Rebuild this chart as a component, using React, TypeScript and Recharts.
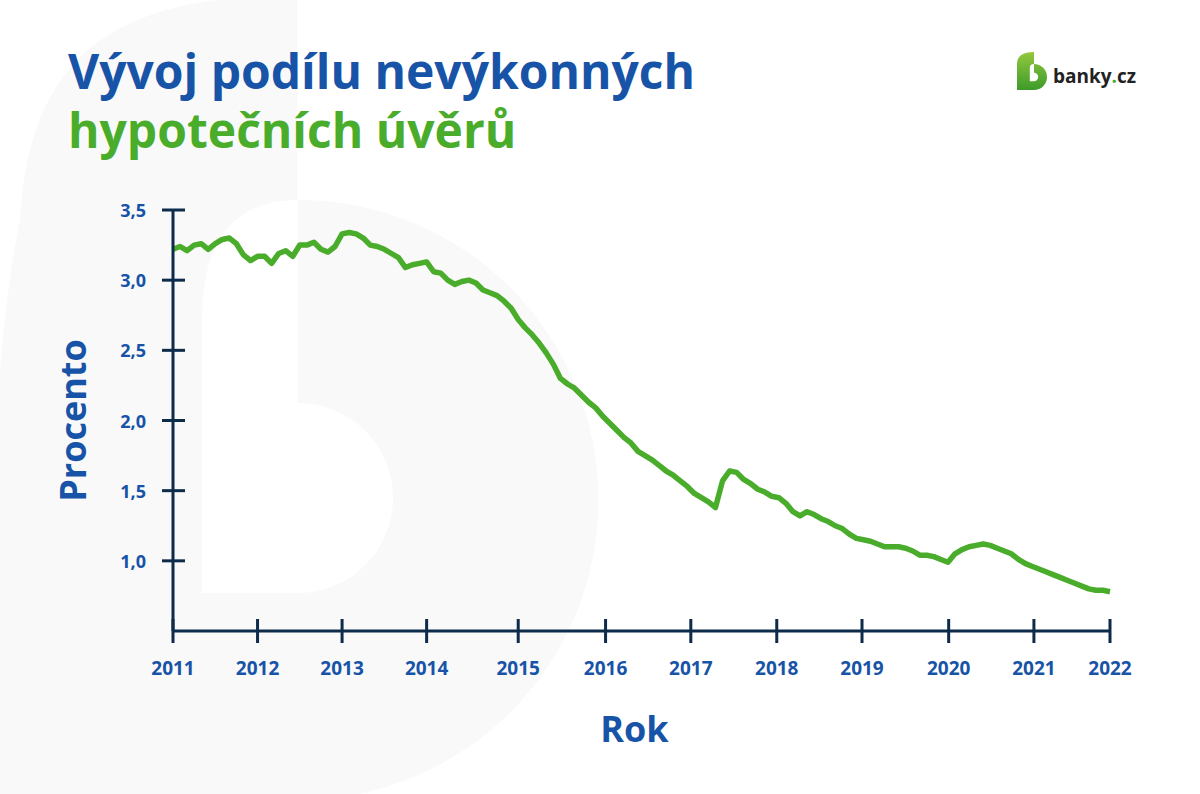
import { LineChart, Line, XAxis, YAxis, Label } from 'recharts';

// podíl nevýkonných hypotečních úvěrů, měsíčně od 1/2011
const NPL_SHARE = [
  3.22, 3.24, 3.21, 3.25, 3.26, 3.22, 3.26, 3.29, 3.30, 3.26, 3.18, 3.14,
  3.17, 3.17, 3.12, 3.19, 3.21, 3.17, 3.25, 3.25, 3.27, 3.22, 3.20, 3.24,
  3.33, 3.34, 3.33, 3.30, 3.25, 3.24, 3.22, 3.19, 3.16, 3.09, 3.11, 3.12,
  3.13, 3.06, 3.05, 3.00, 2.97, 2.99, 3.00, 2.98, 2.93, 2.91, 2.89, 2.85,
  2.80, 2.72, 2.66, 2.61, 2.55, 2.48, 2.40, 2.30, 2.26, 2.23, 2.18, 2.13,
  2.09, 2.03, 1.98, 1.93, 1.88, 1.84, 1.78, 1.75, 1.72, 1.68, 1.64, 1.61,
  1.57, 1.53, 1.48, 1.45, 1.42, 1.38, 1.57, 1.64, 1.63, 1.58, 1.55, 1.51,
  1.49, 1.46, 1.45, 1.41, 1.35, 1.32, 1.35, 1.33, 1.30, 1.28, 1.25, 1.23,
  1.19, 1.16, 1.15, 1.14, 1.12, 1.10, 1.10, 1.10, 1.09, 1.07, 1.04, 1.04,
  1.03, 1.01, 0.99, 1.05, 1.08, 1.10, 1.11, 1.12, 1.11, 1.09, 1.07, 1.05,
  1.01, 0.98, 0.96, 0.94, 0.92, 0.90, 0.88, 0.86, 0.84, 0.82, 0.80, 0.79,
  0.79, 0.78,
];

const YEAR_LABELS = ['2011', '2012', '2013', '2014', '2015', '2016', '2017', '2018', '2019', '2020', '2021', '2022'];
// pozice popisků let v indexu měsíce (v originále nejsou úplně pravidelné)
const YEAR_TICK_POS = [0, 12, 24, 36, 49, 61.4, 73.5, 85.7, 97.8, 110.1, 122.2, 133];
const Y_TICKS = [1.0, 1.5, 2.0, 2.5, 3.0, 3.5];

const BLUE = '#1753a6';
const GREEN = '#4aac2b';
const NAVY = '#0d2b4b';
const FONT = "'Open Sans', sans-serif";

const data = NPL_SHARE.map((v, i) => ({ m: i, v }));

const XTick = (props: any) => {
  const { x, y, payload } = props;
  const idx = YEAR_TICK_POS.indexOf(payload.value);
  return (
    <g>
      <line x1={x} x2={x} y1={y - 12} y2={y + 12} stroke={NAVY} strokeWidth={3} />
      <text x={x} y={y + 44} textAnchor="middle" fill={BLUE} fontSize={19} fontWeight={700} fontFamily={FONT}>
        {YEAR_LABELS[idx]}
      </text>
    </g>
  );
};

const YTick = (props: any) => {
  const { x, y, payload } = props;
  return (
    <g>
      <line x1={x - 11} x2={x + 12} y1={y} y2={y} stroke={NAVY} strokeWidth={3} />
      <text x={x - 27} y={y + 7} textAnchor="end" fill={BLUE} fontSize={18} fontWeight={700} fontFamily={FONT}>
        {payload.value.toFixed(1).replace('.', ',')}
      </text>
    </g>
  );
};

const Background = () => (
  <svg width={1200} height={794} style={{ position: 'absolute', left: 0, top: 0 }}>
    {/* velké světlé "b" v pozadí */}
    <path
      d="M297,-5 L297,200 A300,300 0 0 1 300,800 L-5,800 L-5,450 C0,350 8,280 20,220 C30,50 120,-5 297,-5 Z"
      fill="#f9f9f9"
    />
    <path d="M202,593 L202,320 Q202,200 298,200 L298,403 A95,95 0 0 1 298,593 Z" fill="#ffffff" />

    <text x={68} y={89} fontSize={48} fontWeight={700} fill={BLUE} fontFamily={FONT}>
      Vývoj podílu nevýkonných
    </text>
    <text x={68} y={148} fontSize={48} fontWeight={700} fill={GREEN} fontFamily={FONT}>
      hypotečních úvěrů
    </text>

    {/* logo banky.cz */}
    <defs>
      <linearGradient id="logoGrad" x1="0" y1="0" x2="0" y2="1">
        <stop offset="0%" stopColor="#93c83e" />
        <stop offset="100%" stopColor="#3d9b2a" />
      </linearGradient>
    </defs>
    <g transform="translate(1017,52)">
      <path d="M0,38 L0,12 Q0,0 17,0 L17,12 A13,13 0 0 1 17,38 Z" fill="url(#logoGrad)" />
      <path d="M12.8,29.2 L12.8,16 Q12.8,12 17,12 L17,20.8 A4.2,4.2 0 0 1 17,29.2 Z" fill="#ffffff" />
    </g>
    <text x={1053} y={83} fontSize={19} fontWeight={700} fill="#222222" fontFamily={FONT}>
      banky<tspan fill={GREEN}>.</tspan>cz
    </text>
  </svg>
);

export default function App() {
  return (
    <div style={{ position: 'absolute', left: 0, top: 0, width: 1200, height: 794, overflow: 'hidden', background: '#fff' }}>
      <Background />
      <div style={{ position: 'absolute', left: 0, top: 0 }}>
        <LineChart width={1200} height={794} data={data} margin={{ top: 210, right: 90, bottom: 0, left: 0 }}>
          <XAxis
            dataKey="m"
            type="number"
            domain={[0, 133]}
            ticks={YEAR_TICK_POS}
            interval={0}
            height={163}
            tickSize={0}
            tickMargin={0}
            tickLine={false}
            axisLine={{ stroke: NAVY, strokeWidth: 3 }}
            tick={<XTick />}
          >
            <Label
              content={(p: any) => {
                const vb = p.viewBox;
                return (
                  <text
                    x={vb.x + vb.width / 2 - 7}
                    y={vb.y + 111}
                    textAnchor="middle"
                    fill={BLUE}
                    fontSize={36}
                    fontWeight={700}
                    fontFamily={FONT}
                  >
                    Rok
                  </text>
                );
              }}
            />
          </XAxis>
          <YAxis
            type="number"
            domain={[0.5, 3.5]}
            ticks={Y_TICKS}
            interval={0}
            width={173}
            tickSize={0}
            tickMargin={0}
            tickLine={false}
            axisLine={{ stroke: NAVY, strokeWidth: 3 }}
            tick={<YTick />}
          >
            <Label
              content={(p: any) => {
                const vb = p.viewBox;
                const cx = vb.x + 86;
                const cy = vb.y + vb.height / 2;
                return (
                  <text
                    x={cx}
                    y={cy}
                    transform={`rotate(-90, ${cx}, ${cy})`}
                    textAnchor="middle"
                    fill={BLUE}
                    fontSize={36}
                    fontWeight={700}
                    fontFamily={FONT}
                  >
                    Procento
                  </text>
                );
              }}
            />
          </YAxis>
          <Line
            type="linear"
            dataKey="v"
            stroke={GREEN}
            strokeWidth={5.5}
            strokeLinejoin="round"
            dot={false}
            activeDot={false}
            isAnimationActive={false}
          />
        </LineChart>
      </div>
    </div>
  );
}
